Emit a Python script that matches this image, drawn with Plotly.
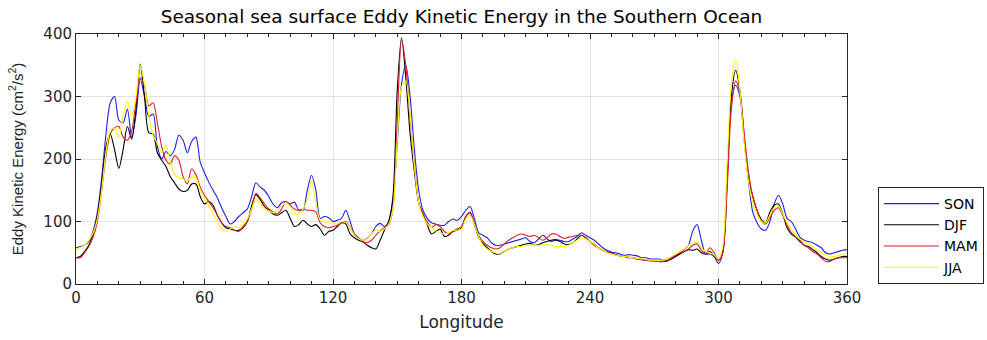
import plotly.graph_objects as go

lon = list(range(0, 361, 2))

son = [58, 60, 62, 68, 85, 115, 170, 240, 290, 300,
       262, 258, 280, 235, 270, 328, 300, 268, 272, 220,
       200, 212, 205, 215, 238, 230, 210, 228, 235, 195,
       178, 163, 150, 138, 122, 108, 96, 100, 108, 114,
       120, 140, 162, 155, 150, 140, 128, 122, 130, 132,
       128, 131, 118, 118, 150, 174, 150, 105, 108, 106,
       100, 102, 105, 118, 100, 80, 72, 70, 73, 80,
       92, 97, 92, 100, 135, 225, 320, 350, 300, 215,
       150, 118, 105, 98, 96, 94, 94, 100, 104, 102,
       108, 118, 124, 105, 82, 78, 74, 66, 62, 62,
       64, 66, 68, 70, 72, 74, 68, 66, 72, 78,
       72, 68, 70, 70, 68, 68, 72, 76, 82, 78,
       74, 70, 64, 58, 54, 51, 50, 48, 46, 47,
       46, 45, 42, 42, 40, 40, 40, 38, 40, 42,
       46, 50, 55, 62, 85, 95, 70, 48, 48, 44,
       33, 50, 160, 290, 318, 300, 230, 165, 115, 98,
       88, 86, 100, 128, 142, 128, 105, 100, 88, 75,
       70, 68, 66, 62, 58, 50, 48, 50, 52, 54,
       55]

djf = [42, 44, 52, 62, 80, 110, 160, 220, 240, 215,
       185, 215, 252, 232, 280, 352, 300, 242, 240, 210,
       198, 188, 172, 162, 152, 148, 150, 160, 160, 140,
       128, 132, 126, 110, 98, 90, 88, 86, 86, 90,
       100, 125, 143, 135, 124, 118, 112, 110, 114, 118,
       105, 92, 95, 102, 96, 92, 95, 88, 78, 84,
       86, 92, 98, 96, 80, 74, 70, 67, 62, 58,
       56, 70, 86, 100, 140, 310, 394, 330, 240, 180,
       130, 112, 95, 80, 84, 88, 76, 78, 84, 86,
       90, 108, 114, 95, 75, 65, 58, 52, 48, 48,
       52, 56, 58, 60, 62, 64, 65, 63, 63, 66,
       68, 70, 71, 68, 64, 63, 66, 72, 78, 74,
       68, 64, 58, 54, 51, 49, 47, 45, 44, 42,
       42, 40, 39, 38, 38, 37, 36, 36, 37, 40,
       44, 48, 52, 55, 54, 56, 50, 48, 52, 45,
       38, 52, 170, 300, 342, 310, 235, 170, 140, 118,
       103, 98, 115, 126, 128, 112, 90, 80, 75, 68,
       62, 60, 55, 50, 44, 40, 38, 40, 42, 44,
       44]

mam = [42, 42, 50, 60, 75, 100, 150, 205, 240, 250,
       252, 235, 230, 245, 290, 330, 318, 285, 290, 258,
       220, 198, 192, 205, 198, 172, 160, 184, 175, 155,
       142, 132, 122, 110, 98, 92, 90, 86, 84, 92,
       100, 120, 145, 138, 128, 120, 115, 112, 120, 132,
       126, 120, 118, 120, 118, 118, 115, 98, 92, 90,
       92, 94, 98, 100, 90, 80, 74, 68, 66, 70,
       78, 85, 90, 95, 120, 260, 390, 350, 265, 190,
       130, 110, 100, 90, 95, 92, 84, 80, 85, 88,
       92, 108, 115, 98, 78, 68, 62, 58, 56, 58,
       64, 70, 74, 78, 80, 78, 76, 78, 74, 70,
       74, 80, 80, 76, 73, 75, 76, 78, 78, 74,
       68, 62, 58, 54, 51, 49, 47, 45, 44, 43,
       42, 40, 39, 38, 37, 37, 36, 36, 38, 42,
       46, 50, 52, 56, 62, 64, 54, 48, 58, 50,
       38, 50, 150, 280, 325, 305, 240, 180, 140, 118,
       100, 96, 106, 118, 122, 110, 95, 82, 76, 70,
       62, 58, 52, 48, 42, 36, 36, 40, 42, 42,
       42]

jja = [55, 58, 62, 70, 82, 105, 150, 210, 245, 250,
       235, 270, 292, 268, 300, 350, 320, 270, 238, 225,
       210, 222, 196, 175, 170, 168, 165, 172, 170, 150,
       138, 125, 112, 100, 88, 84, 88, 92, 90, 96,
       104, 120, 135, 130, 120, 117, 114, 118, 125, 130,
       124, 112, 112, 120, 135, 165, 130, 102, 100, 98,
       97, 96, 100, 98, 90, 78, 72, 70, 72, 80,
       86, 84, 88, 96, 120, 230, 315, 325, 270, 190,
       130, 108, 96, 90, 85, 82, 80, 82, 86, 86,
       88, 104, 110, 95, 76, 62, 56, 52, 50, 48,
       52, 56, 58, 60, 60, 62, 62, 63, 62, 62,
       63, 62, 60, 60, 60, 62, 66, 70, 74, 72,
       68, 64, 58, 54, 50, 48, 46, 45, 44, 43,
       42, 41, 40, 40, 38, 38, 38, 38, 40, 44,
       48, 52, 56, 62, 66, 68, 58, 52, 50, 46,
       40, 60, 190, 320, 360, 310, 225, 165, 130, 112,
       100, 98, 110, 122, 125, 112, 98, 88, 78, 72,
       68, 64, 60, 54, 50, 46, 44, 44, 46, 48,
       50]

series = [("SON", son, "#1f1fe6"), ("DJF", djf, "#000000"),
          ("MAM", mam, "#dc1e2a"), ("JJA", jja, "#ffff00")]

x_ticks = [0, 60, 120, 180, 240, 300, 360]
y_ticks = [0, 100, 200, 300, 400]

fig = go.Figure()
for name, vals, col in series:
    assert len(vals) == len(lon), name
    fig.add_trace(go.Scatter(x=lon, y=vals, mode="lines", name=name,
                             line=dict(color=col, width=1.1, shape="spline", smoothing=0.8)))

axis_col = "#262626"
wide_font = "DejaVu Sans, Verdana, sans-serif"
narrow_font = "Liberation Sans, Arial, sans-serif"

fig.update_layout(
    width=987, height=340,
    margin=dict(l=76, r=140, t=34, b=56, autoexpand=False),
    paper_bgcolor="white", plot_bgcolor="white",
    font=dict(family=wide_font, size=14, color=axis_col),
    title=dict(text="Seasonal sea surface Eddy Kinetic Energy in the Southern Ocean",
               x=(76 + 771 / 2) / 987, xanchor="center", y=1 - 17 / 340, yanchor="middle",
               font=dict(family=wide_font, size=18.5, color="#000000")),
    legend=dict(xref="container", x=878 / 987, xanchor="left",
                yref="container", y=(340 - 284) / 340, yanchor="bottom",
                bordercolor=axis_col, borderwidth=1, bgcolor="white",
                font=dict(family=wide_font, size=14, color="#000000"), itemwidth=55,
                tracegroupgap=0),
    showlegend=True,
)
fig.update_xaxes(range=[0, 360], tickvals=x_ticks, ticktext=[str(v) for v in x_ticks],
                 showline=True, linecolor=axis_col, linewidth=1, mirror="ticks",
                 ticks="inside", ticklen=5, tickcolor=axis_col,
                 tickfont=dict(family=wide_font, size=15),
                 minor=dict(ticks="inside", dtick=10, ticklen=3, tickcolor=axis_col, showgrid=False),
                 showgrid=True, gridcolor="#e3e3e3", gridwidth=1, zeroline=False,
                 title=dict(text="Longitude", font=dict(family=wide_font, size=17), standoff=10))
fig.update_yaxes(range=[0, 400], tickvals=y_ticks, ticktext=[str(v) for v in y_ticks],
                 showline=True, linecolor=axis_col, linewidth=1, mirror="ticks",
                 ticks="inside", ticklen=5, tickcolor=axis_col,
                 tickfont=dict(family=wide_font, size=15),
                 showgrid=True, gridcolor="#e3e3e3", gridwidth=1, zeroline=False,
                 title=dict(text="Eddy Kinetic Energy (cm<sup>2</sup>/s<sup>2</sup>)",
                            font=dict(family=narrow_font, size=15), standoff=16))

fig.write_html("out.html")
